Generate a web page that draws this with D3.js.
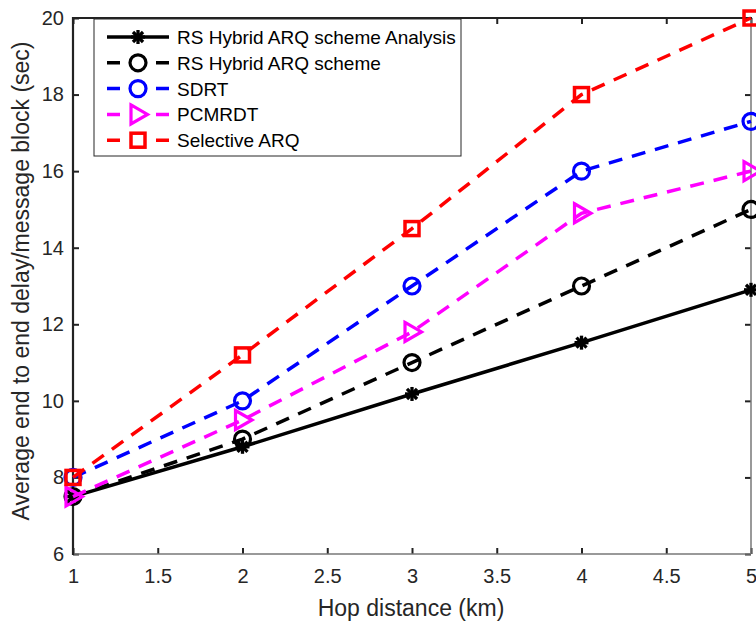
<!DOCTYPE html>
<html><head><meta charset="utf-8">
<script src="https://cdn.jsdelivr.net/npm/d3@7"></script>
<style>body{margin:0;background:#fff;} svg{display:block;font-family:"Liberation Sans",Arial,sans-serif;}</style>
</head><body>
<svg id="c" width="756" height="622"></svg>
<script>
const hops = [1, 2, 3, 4, 5];
const analysis = [7.5, 8.8, 10.18, 11.52, 12.9];
const rsHybrid = [7.5, 9.0, 11.0, 13.0, 15.0];
const sdrt = [8.0, 10.0, 13.0, 16.0, 17.3];
const pcmrdt = [7.5, 9.5, 11.8, 14.9, 16.0];
const selective = [8.0, 11.2, 14.5, 18.0, 20.0];
const xTicks = [1, 1.5, 2, 2.5, 3, 3.5, 4, 4.5, 5];
const yTicks = [6, 8, 10, 12, 14, 16, 18, 20];
const seriesNames = ["RS Hybrid ARQ scheme Analysis", "RS Hybrid ARQ scheme", "SDRT", "PCMRDT", "Selective ARQ"];

const series = [
  {name: seriesNames[0], values: analysis, color: "#000", dash: null, marker: "asterisk"},
  {name: seriesNames[1], values: rsHybrid, color: "#000", dash: "14,10", marker: "circle"},
  {name: seriesNames[2], values: sdrt, color: "#0000ff", dash: "14,10", marker: "circle"},
  {name: seriesNames[3], values: pcmrdt, color: "#ff00ff", dash: "14,10", marker: "triangle"},
  {name: seriesNames[4], values: selective, color: "#ff0000", dash: "14,10", marker: "square"}
];

const L = 73, R = 751, T = 18, B = 554;
const svg = d3.select("#c");
const x = d3.scaleLinear().domain([1, 5]).range([L, R]);
const y = d3.scaleLinear().domain([6, 20]).range([B, T]);

// axes
const fmt = d => String(d);
const xAx = svg.append("g").attr("transform", `translate(0,${B})`)
  .call(d3.axisBottom(x).tickValues(xTicks).tickFormat(fmt).tickSizeInner(-6).tickSizeOuter(0).tickPadding(15));
const yAx = svg.append("g").attr("transform", `translate(${L},0)`)
  .call(d3.axisLeft(y).tickValues(yTicks).tickFormat(fmt).tickSizeInner(-6).tickSizeOuter(0).tickPadding(9));
const xTop = svg.append("g").attr("transform", `translate(0,${T})`)
  .call(d3.axisTop(x).tickValues(xTicks).tickFormat("").tickSizeInner(-6).tickSizeOuter(0));
const yRight = svg.append("g").attr("transform", `translate(${R},0)`)
  .call(d3.axisRight(y).tickValues(yTicks).tickFormat("").tickSizeInner(-6).tickSizeOuter(0));
[xAx, yAx, xTop, yRight].forEach(g => {
  g.attr("font-size", 20).attr("font-family", "Liberation Sans, Arial, sans-serif");
  g.selectAll(".tick line").attr("stroke", "#222").attr("stroke-width", 2);
  g.selectAll(".tick text").attr("fill", "#262626");
  g.select(".domain").remove();
});
// frame
svg.append("line").attr("x1", L).attr("x2", R).attr("y1", B).attr("y2", B).attr("stroke", "#777").attr("stroke-width", 1.5);
svg.append("line").attr("x1", R).attr("x2", R).attr("y1", T).attr("y2", B).attr("stroke", "#777").attr("stroke-width", 1.5);
svg.append("line").attr("x1", L).attr("x2", L).attr("y1", T - 1).attr("y2", B + 1).attr("stroke", "#222").attr("stroke-width", 2.2);
svg.append("line").attr("x1", L - 1).attr("x2", R + 1).attr("y1", T).attr("y2", T).attr("stroke", "#222").attr("stroke-width", 2.2);

// labels
svg.append("text").attr("x", 411).attr("y", 616).attr("text-anchor", "middle")
  .attr("font-size", 23).attr("fill", "#262626").text("Hop distance (km)");
svg.append("text").attr("transform", `translate(29,281) rotate(-90)`).attr("text-anchor", "middle")
  .attr("font-size", 23).attr("fill", "#262626").text("Average end to end delay/message block (sec)");

function drawMarker(g, type, cx, cy, color) {
  if (type === "circle") {
    g.append("circle").attr("cx", cx).attr("cy", cy).attr("r", 8).attr("fill", "none").attr("stroke", color).attr("stroke-width", 3.2);
  } else if (type === "square") {
    g.append("rect").attr("x", cx - 7).attr("y", cy - 7).attr("width", 14).attr("height", 14).attr("fill", "none").attr("stroke", color).attr("stroke-width", 3.5);
  } else if (type === "triangle") {
    g.append("path").attr("d", `M${cx - 7},${cy - 9.5}L${cx + 9.5},${cy}L${cx - 7},${cy + 9.5}Z`).attr("fill", "none").attr("stroke", color).attr("stroke-width", 3.2).attr("stroke-linejoin", "miter");
  } else if (type === "asterisk") {
    const s = 7;
    const p = [[0, -s, 0, s], [-s, 0, s, 0], [-s * .72, -s * .72, s * .72, s * .72], [-s * .72, s * .72, s * .72, -s * .72]];
    p.forEach(q => g.append("line").attr("x1", cx + q[0]).attr("y1", cy + q[1]).attr("x2", cx + q[2]).attr("y2", cy + q[3]).attr("stroke", color).attr("stroke-width", 3.3));
  }
}

const line = d3.line().x((d, i) => x(hops[i])).y(d => y(d));
series.forEach(s => {
  const g = svg.append("g");
  g.append("path").attr("d", line(s.values)).attr("fill", "none").attr("stroke", s.color)
    .attr("stroke-width", 3.5).attr("stroke-dasharray", s.dash);
  s.values.forEach((v, i) => drawMarker(g, s.marker, x(hops[i]), y(v), s.color));
});

// legend
const lg = svg.append("g");
lg.append("rect").attr("x", 94).attr("y", 19).attr("width", 367).attr("height", 137).attr("fill", "#fff").attr("stroke", "#262626").attr("stroke-width", 1);
series.forEach((s, i) => {
  const ly = 37 + i * 25.8;
  const g = lg.append("g");
  g.append("line").attr("x1", 107).attr("x2", 169).attr("y1", ly).attr("y2", ly).attr("stroke", s.color).attr("stroke-width", 3.5).attr("stroke-dasharray", s.dash ? "13,36" : null);
  drawMarker(g, s.marker, 138, ly, s.color);
  g.append("text").attr("x", 177).attr("y", ly + 7).attr("font-size", 19).attr("fill", "#000").text(s.name);
});
</script>
</body></html>
